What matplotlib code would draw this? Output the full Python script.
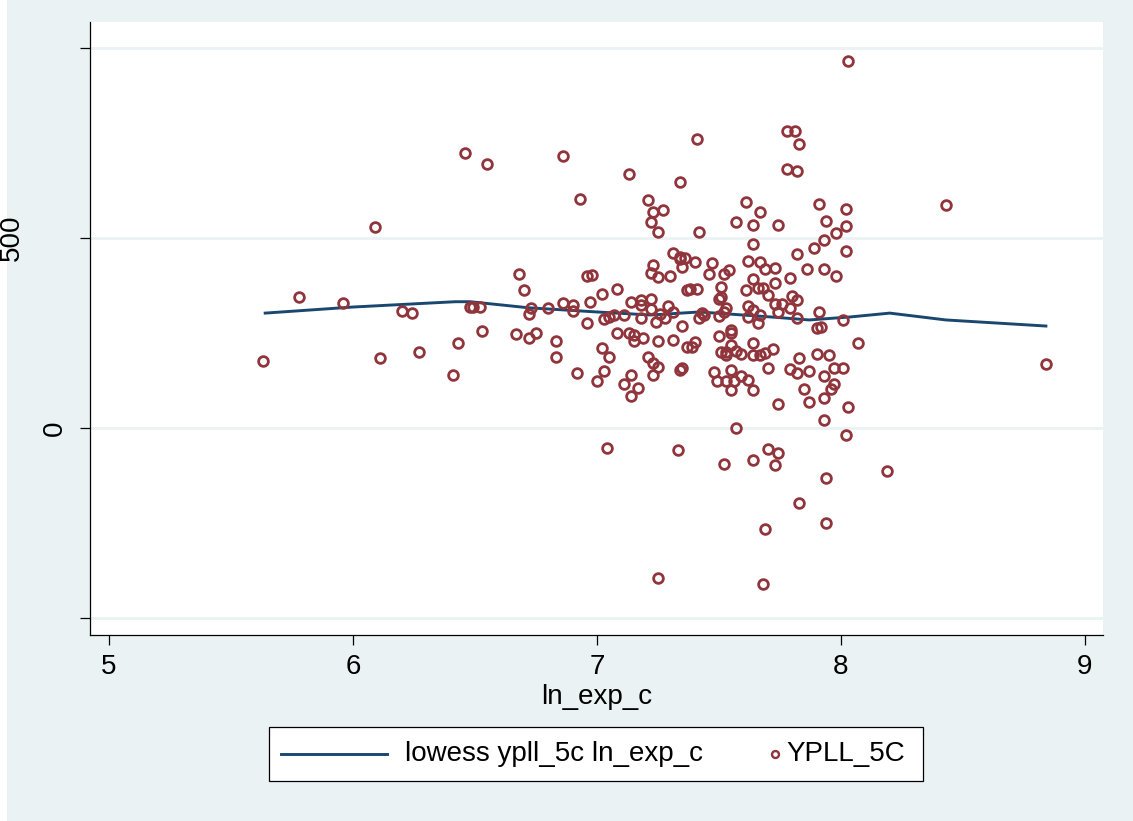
import numpy as np
import matplotlib.pyplot as plt
from matplotlib import transforms
from matplotlib.patches import Rectangle
from matplotlib.lines import Line2D

plt.rcParams['font.family'] = ['Liberation Sans', 'DejaVu Sans']

# scatter values (ln_exp_c, YPLL_5C)
ln_exp_c = [
    5.63, 5.78, 5.96, 6.09, 6.11, 6.20, 6.24, 6.27, 6.41, 6.43, 6.46, 6.48, 6.49, 6.52, 6.53, 6.55,
    6.86, 6.93, 6.68, 6.70, 6.73, 6.72, 6.80, 6.86, 6.90, 6.90, 6.96, 6.97, 6.96, 6.67, 6.72, 6.75,
    6.83, 6.83, 6.92, 7.13, 7.34, 7.21, 7.23, 7.27, 7.22, 7.25, 7.31, 7.34, 7.36, 7.35, 7.23, 7.22,
    7.25, 7.30, 6.98, 7.02, 7.08, 7.14, 7.18, 7.18, 7.22, 7.22, 7.29, 7.31, 7.26, 7.28, 7.18, 7.11,
    7.07, 7.05, 7.03, 7.24, 7.35, 7.37, 7.08, 7.13, 7.15, 7.15, 7.19, 7.25, 7.31, 7.02, 7.05, 7.21,
    7.23, 7.25, 7.23, 7.34, 7.35, 7.03, 7.00, 7.14, 7.11, 7.17, 7.14, 7.04, 7.33, 7.25, 7.41, 7.61,
    7.67, 7.57, 7.64, 7.74, 7.42, 7.64, 7.62, 7.67, 7.69, 7.73, 7.34, 7.40, 7.47, 7.46, 7.52, 7.54,
    7.64, 7.61, 7.66, 7.68, 7.70, 7.73, 7.73, 7.74, 7.38, 7.41, 7.51, 7.50, 7.51, 7.62, 7.64, 7.67,
    7.66, 7.53, 7.52, 7.50, 7.43, 7.44, 7.42, 7.62, 7.55, 7.50, 7.55, 7.37, 7.39, 7.40, 7.51, 7.53,
    7.55, 7.53, 7.57, 7.59, 7.64, 7.64, 7.67, 7.69, 7.72, 7.70, 7.48, 7.49, 7.55, 7.53, 7.56, 7.59,
    7.62, 7.55, 7.64, 7.74, 7.57, 7.52, 7.64, 7.70, 7.74, 7.73, 7.69, 7.68, 8.03, 7.78, 7.81, 7.83,
    7.78, 7.82, 7.91, 8.02, 7.94, 8.02, 7.98, 7.93, 7.89, 7.82, 8.02, 7.86, 7.93, 7.98, 7.79, 7.76,
    7.80, 7.82, 7.79, 7.91, 7.82, 8.01, 7.90, 7.92, 8.07, 7.83, 7.90, 7.95, 7.79, 7.82, 7.87, 7.93,
    7.97, 8.01, 7.97, 7.96, 7.85, 7.93, 7.87, 8.03, 7.93, 8.02, 7.94, 7.83, 7.94, 8.43, 8.19, 8.84,
]
ypll_5c = [
    176, 345, 329, 529, 184, 308, 303, 200, 139, 224, 724, 318, 318, 318, 255, 695,
    716, 603, 405, 363, 316, 300, 316, 329, 324, 308, 400, 332, 276, 247, 237, 250,
    229, 187, 145, 668, 647, 600, 568, 574, 542, 516, 461, 450, 447, 424, 429, 408,
    397, 400, 403, 353, 366, 332, 337, 324, 339, 313, 321, 305, 300, 289, 289, 297,
    297, 292, 287, 279, 268, 363, 250, 250, 245, 229, 237, 229, 232, 211, 187, 187,
    171, 161, 139, 153, 158, 150, 124, 139, 116, 105, 84, -53, -58, -395, 761, 595,
    568, 542, 534, 534, 516, 484, 439, 437, 418, 421, 445, 437, 434, 405, 405, 416,
    392, 363, 368, 368, 350, 382, 326, 305, 366, 366, 371, 339, 345, 321, 311, 297,
    276, 316, 305, 295, 303, 297, 289, 292, 258, 242, 250, 213, 213, 226, 200, 200,
    218, 192, 203, 195, 224, 192, 192, 197, 208, 158, 147, 124, 153, 124, 124, 137,
    126, 100, 100, 63, 0, -95, -84, -55, -66, -97, -266, -411, 966, 782, 782, 747,
    682, 676, 589, 576, 545, 532, 513, 495, 474, 458, 466, 418, 418, 400, 395, 326,
    347, 337, 316, 305, 289, 284, 263, 266, 224, 184, 195, 192, 155, 145, 150, 137,
    158, 158, 116, 103, 103, 79, 68, 55, 21, -18, -132, -197, -250, 587, -113, 168,
]

# lowess curve
lowess_x = [5.64, 6.0, 6.42, 6.48, 6.72, 7.0, 7.22, 7.42, 7.71, 7.87, 8.04, 8.2, 8.43, 8.84]
lowess_y = [302, 318, 332, 332, 316, 305, 297, 305, 292, 284, 292, 302, 284, 268]

x_ticks = [5, 6, 7, 8, 9]
y_ticks = [-500, 0, 500, 1000]

bg = '#EAF2F3'
navy = '#1A476F'
maroon = '#90353B'

fig = plt.figure(figsize=(11.33, 8.21), dpi=100, facecolor='white')
fig.patches.append(Rectangle((7 / 1133, 0), 1, 1, transform=fig.transFigure,
                             facecolor=bg, edgecolor='none', zorder=-10))

ax = fig.add_axes([90 / 1133, 1 - 635 / 821, (1103 - 90) / 1133, (635 - 22) / 821])
ax.set_facecolor('white')

for yv in y_ticks:
    ax.axhline(yv, color=bg, lw=2, zorder=0)

ax.plot(lowess_x, lowess_y, color=navy, lw=2.1, zorder=2)
ax.plot(ln_exp_c, ypll_5c, linestyle='none', marker='o', markersize=7,
        markerfacecolor='none', markeredgecolor=maroon, markeredgewidth=2.0, zorder=3)

ax.set_xlim(4.922, 9.074)
ax.set_ylim(-545, 1068)
ax.set_xticks(x_ticks)
ax.set_xticklabels([str(v) for v in x_ticks], fontsize=20)
ax.set_yticks(y_ticks)
ax.set_yticklabels([''] * len(y_ticks))
ax.tick_params(direction='out', length=7.5, width=0.9, color='black', pad=6)
for s in ['top', 'right']:
    ax.spines[s].set_visible(False)
for s in ['left', 'bottom']:
    ax.spines[s].set_linewidth(0.9)

# rotated y labels
trans = transforms.blended_transform_factory(fig.transFigure, ax.transData)
fig.text(55 / 1133, 0, '0', rotation=90, ha='center', va='center', fontsize=20, transform=trans)
fig.text(12 / 1133, 500, '500', rotation=90, ha='center', va='center', fontsize=20, transform=trans)

fig.text(597 / 1133, 1 - 697 / 821, 'ln_exp_c', ha='center', va='center', fontsize=20)

# legend box
fig.patches.append(Rectangle((269 / 1133, 1 - 781 / 821), (923 - 269) / 1133, 54 / 821,
                             transform=fig.transFigure, facecolor='white',
                             edgecolor='black', lw=0.9))
ly = 1 - 754 / 821
fig.lines.append(Line2D([281 / 1133, 387 / 1133], [ly, ly], transform=fig.transFigure,
                        color=navy, lw=2.1))
fig.text(405 / 1133, ly, 'lowess ypll_5c ln_exp_c', ha='left', va='center', fontsize=20)
fig.lines.append(Line2D([775 / 1133], [ly], transform=fig.transFigure, marker='o',
                        markersize=5, markerfacecolor='none', markeredgecolor=maroon,
                        markeredgewidth=1.7, linestyle='none'))
fig.text(786 / 1133, ly, 'YPLL_5C', ha='left', va='center', fontsize=20)

fig.savefig('out.png', dpi=100, facecolor=fig.get_facecolor())
